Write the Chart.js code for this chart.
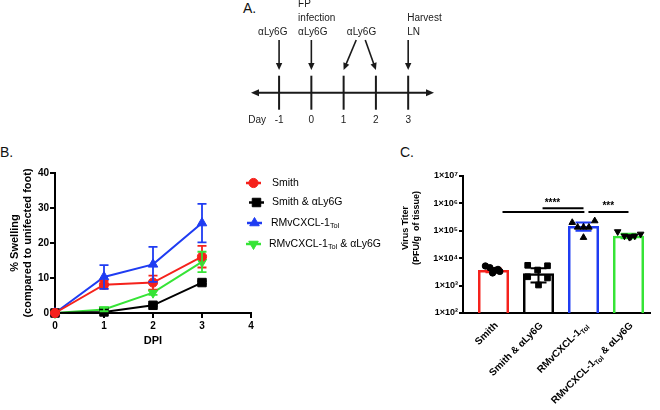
<!DOCTYPE html>
<html><head><meta charset="utf-8">
<script src="https://cdn.jsdelivr.net/npm/chart.js@4/dist/chart.umd.min.js"></script>
<style>
html,body{margin:0;padding:0;background:#fff;width:660px;height:410px;overflow:hidden;position:relative}
canvas{position:absolute}
#ca{left:240px;top:0}
#cb{left:0;top:140px}
#cc{left:400px;top:140px}
.pl{position:absolute;font:14px 'Liberation Sans',Arial,sans-serif;color:#111;line-height:14px}
</style></head><body>
<div class="pl" style="left:243px;top:1px">A.</div>
<div class="pl" style="left:0px;top:145px">B.</div>
<div class="pl" style="left:400px;top:145px">C.</div>
<canvas id="ca" width="210" height="130"></canvas>
<canvas id="cb" width="400" height="215"></canvas>
<canvas id="cc" width="260" height="270"></canvas>
<script>
// ---------- DATA ----------
// Panel A: timeline
const dayTicks = [-1, 0, 1, 2, 3];
const eventText = [['αLy6G'], ['FP', 'infection', 'αLy6G'], ['αLy6G'], ['Harvest', 'LN']];
const eventDays = [[-1], [0], [1, 2], [3]];

// Panel B: % swelling vs DPI
const dpi = [0, 1, 2, 3];
const dpiTicks = [0, 1, 2, 3, 4];
const smith = [0, 8.1, 8.7, 16.1];
const smithErr = [0, 1.1, 2.0, 3.1];
const smithLy6G = [0, 0.3, 2.2, 8.7];
const smithLy6GErr = [0, 0.2, 0.3, 0.4];
const rmv = [0, 10.3, 13.9, 25.7];
const rmvErr = [0, 3.4, 5.0, 5.5];
const rmvLy6G = [0, 1.0, 5.8, 14.6];
const rmvLy6GErr = [0, 0.5, 0.6, 2.9];
const seriesNames = ['Smith', 'Smith & αLy6G', 'RMvCXCL-1_{Tol}', 'RMvCXCL-1_{Tol} & αLy6G'];

// Panel C: virus titer
const titerGroups = ['Smith', 'Smith & αLy6G', 'RMvCXCL-1_{Tol}', 'RMvCXCL-1_{Tol} & αLy6G'];
const titerMean = [3700, 2800, 150000, 66000];
const titerSD = [600, 1500, 50000, 12000];
const titerSmith = [5200, 4500, 3600, 3300, 2900, 3900];
const titerSmithLy6G = [5500, 5300, 3700, 2100, 1900, 1050];
const titerRmv = [200000, 230000, 135000, 135000, 135000, 57000];
const titerRmvLy6G = [93000, 65000, 58000, 61000, 65000, 76000];
const titerExponents = [2, 3, 4, 5, 6, 7];
const sigLines = [[0.2, 2.02, 485000], [1.09, 2.0, 660000], [2.11, 3.0, 485000]];
const sigStars = [['****', 1.31, 830000], ['***', 2.55, 650000]];

// ---------- STYLE / LAYOUT ----------
const FAM = "'Liberation Sans', Arial, Helvetica, sans-serif";
const RED = '#f5221c', BLK = '#000000', BLU = '#1f3cf2', GRN = '#36e436';
const H = Chart.helpers;
Chart.defaults.font.family = FAM;
Chart.defaults.color = '#000';

function segs(s){
  const out=[]; const re=/_\{([^}]*)\}/g; let last=0, m;
  while((m=re.exec(s))){ if(m.index>last) out.push([s.slice(last,m.index),false]); out.push([m[1],true]); last=re.lastIndex; }
  if(last<s.length) out.push([s.slice(last),false]);
  return out;
}
function richWidth(ctx, s, size, weight){
  let w=0; for(const [t,sub] of segs(s)){ ctx.font=`${weight} ${sub?size*0.7:size}px ${FAM}`; w+=ctx.measureText(t).width; } return w;
}
function drawRich(ctx, s, x, y, size, weight, align){
  const w = richWidth(ctx, s, size, weight);
  let cx = align==='right' ? x-w : (align==='center' ? x-w/2 : x);
  ctx.textAlign='left'; ctx.textBaseline='middle';
  for(const [t,sub] of segs(s)){
    ctx.font=`${weight} ${sub?size*0.7:size}px ${FAM}`;
    ctx.fillText(t, cx, sub ? y+size*0.33 : y);
    cx += ctx.measureText(t).width;
  }
}
function sup(n){ return String(n).split('').map(d=>'⁰¹²³⁴⁵⁶⁷⁸⁹'[+d]).join(''); }

// ---------- PANEL A ----------
const A_LINE = [-1.87, 3.8];
const A_ARROW = [5.27, 2.27];
const A_TEXT_X = [-1.65, -0.41, 1.1, 2.97];
const A_ROWS = [6.02, 7.47, 8.87];
const A_DAYROW = -2.73;
const A_DIAG_START = [1.39, 1.67];
function arrowHead(ctx, x1, y1, x2, y2, len, half){
  const a = Math.atan2(y2-y1, x2-x1);
  ctx.beginPath();
  ctx.moveTo(x2, y2);
  ctx.lineTo(x2 - len*Math.cos(a) + half*Math.sin(a), y2 - len*Math.sin(a) - half*Math.cos(a));
  ctx.lineTo(x2 - len*Math.cos(a) - half*Math.sin(a), y2 - len*Math.sin(a) + half*Math.cos(a));
  ctx.closePath(); ctx.fill();
}
function arrow(ctx, x1, y1, x2, y2){
  const a = Math.atan2(y2-y1, x2-x1);
  ctx.beginPath(); ctx.moveTo(x1,y1); ctx.lineTo(x2-5*Math.cos(a), y2-5*Math.sin(a)); ctx.stroke();
  arrowHead(ctx, x1, y1, x2, y2, 7, 3.2);
}
const timelinePlugin = {
  id:'timeline',
  beforeDatasetsDraw(chart){
    const {ctx, scales:{x, y}} = chart;
    ctx.save();
    ctx.strokeStyle='#1a1a1a'; ctx.fillStyle='#1a1a1a'; ctx.lineWidth=2;
    const y0 = y.getPixelForValue(0);
    const xa = x.getPixelForValue(A_LINE[0]), xb = x.getPixelForValue(A_LINE[1]);
    ctx.beginPath(); ctx.moveTo(xa+5, y0); ctx.lineTo(xb-5, y0); ctx.stroke();
    arrowHead(ctx, xb-10, y0, xb, y0, 8, 3.5);
    arrowHead(ctx, xa+10, y0, xa, y0, 8, 3.5);
    const yt = y.getPixelForValue(A_ARROW[0]), yb = y.getPixelForValue(A_ARROW[1]);
    ctx.lineWidth = 1.6;
    eventDays.forEach((days, i) => {
      days.forEach((d, k) => {
        const px = x.getPixelForValue(d);
        if (days.length === 1) arrow(ctx, px, yt, px, yb);
        else arrow(ctx, x.getPixelForValue(A_DIAG_START[k]), yt, px, yb);
      });
      const lines = eventText[i];
      ctx.font = `10px ${FAM}`; ctx.textAlign='left'; ctx.textBaseline='middle'; ctx.fillStyle='#1a1a1a';
      lines.forEach((t, j) => {
        const row = A_ROWS[lines.length-1-j];
        ctx.fillText(t, x.getPixelForValue(A_TEXT_X[i]), y.getPixelForValue(row));
      });
    });
    ctx.font = `10px ${FAM}`; ctx.textAlign='center';
    const yd = y.getPixelForValue(A_DAYROW);
    ctx.fillText('Day', x.getPixelForValue(-1.68), yd);
    dayTicks.forEach(d => ctx.fillText(String(d), x.getPixelForValue(d), yd));
    ctx.restore();
  }
};
new Chart(document.getElementById('ca'), {
  type:'scatter',
  data:{datasets:[{data: dayTicks.map(d=>({x:d, y:0})), pointStyle:'line', pointRotation:90, pointRadius:17,
    pointBorderWidth:2, pointBorderColor:'#1a1a1a', pointBackgroundColor:'#1a1a1a', showLine:false, clip:false}]},
  options:{responsive:false, animation:false, devicePixelRatio:1,
    layout:{autoPadding:false, padding:{left:11, right:16, top:0, bottom:0}},
    plugins:{legend:{display:false}, tooltip:{enabled:false}},
    scales:{x:{type:'linear', display:false, min:A_LINE[0], max:A_LINE[1]},
            y:{type:'linear', display:false, min:-3.73, max:9.27}}},
  plugins:[timelinePlugin]
});

// ---------- PANEL B ----------
const seriesB = [
  {label:seriesNames[0], vals:smith, err:smithErr, color:RED, style:'circle', rot:0, r:4.6},
  {label:seriesNames[1], vals:smithLy6G, err:smithLy6GErr, color:BLK, style:'rect', rot:0, r:6},
  {label:seriesNames[2], vals:rmv, err:rmvErr, color:BLU, style:'triangle', rot:0, r:5.5},
  {label:seriesNames[3], vals:rmvLy6G, err:rmvLy6GErr, color:GRN, style:'triangle', rot:180, r:5.5}
];
const errB = {
  id:'errB',
  afterDatasetsDraw(chart){
    const {ctx, scales:{x, y}} = chart;
    ctx.save(); ctx.lineWidth=1.8;
    seriesB.forEach(s => {
      ctx.strokeStyle = s.color;
      dpi.forEach((d, i) => {
        const e = s.err[i]; if (!e) return;
        const px = x.getPixelForValue(d), t = y.getPixelForValue(s.vals[i]+e), b = y.getPixelForValue(s.vals[i]-e);
        ctx.beginPath();
        ctx.moveTo(px, t); ctx.lineTo(px, b);
        ctx.moveTo(px-4.5, t); ctx.lineTo(px+4.5, t);
        ctx.moveTo(px-4.5, b); ctx.lineTo(px+4.5, b);
        ctx.stroke();
      });
    });
    ctx.restore();
  }
};
const LEG_Y = [43, 62.5, 83, 104];
const LEG_LX = [246, 249, 247, 246];
const LEG_TX = [272, 272, 271, 269];
const legendB = {
  id:'legendB',
  afterDraw(chart){
    const ctx = chart.ctx; ctx.save();
    seriesB.forEach((s, i) => {
      ctx.strokeStyle = s.color; ctx.fillStyle = s.color; ctx.lineWidth = 2.5;
      ctx.beginPath(); ctx.moveTo(LEG_LX[i], LEG_Y[i]); ctx.lineTo(LEG_LX[i]+15, LEG_Y[i]); ctx.stroke();
      ctx.lineWidth = 1;
      H.drawPoint(ctx, {pointStyle:s.style, radius:s.r, rotation:s.rot, borderWidth:1}, LEG_LX[i]+7.5, LEG_Y[i]);
      ctx.fillStyle = '#000';
      drawRich(ctx, s.label, LEG_TX[i], LEG_Y[i], 10.5, 'normal', 'left');
    });
    ctx.restore();
  }
};
new Chart(document.getElementById('cb'), {
  type:'line',
  data:{datasets: seriesB.map(s => ({
    label:s.label, data: dpi.map((d, i) => ({x:d, y:s.vals[i]})),
    borderColor:s.color, backgroundColor:s.color, pointBackgroundColor:s.color, pointBorderColor:s.color,
    borderWidth:2, pointStyle:s.style, pointRotation:s.rot, pointRadius:s.r, pointBorderWidth:1,
    clip:false, tension:0, fill:false}))},
  options:{responsive:false, animation:false, devicePixelRatio:1,
    layout:{autoPadding:false, padding:{left:0, right:149, top:33, bottom:0}},
    plugins:{legend:{display:false}, tooltip:{enabled:false}},
    scales:{
      x:{type:'linear', min:0, max:4,
         afterFit(s){ s.height = 42; },
         afterBuildTicks(s){ s.ticks = dpiTicks.map(v => ({value:v})); },
         ticks:{font:{size:10, weight:'bold'}, padding:2, color:'#000'},
         grid:{drawOnChartArea:false, drawTicks:true, tickLength:5, color:'#000', lineWidth:2},
         border:{display:true, color:'#000', width:2},
         title:{display:true, text:'DPI', font:{size:11, weight:'bold'}, color:'#000', padding:{top:0, bottom:7}}},
      y:{type:'linear', min:0, max:40,
         afterFit(s){ s.width = 55; },
         ticks:{stepSize:10, font:{size:10, weight:'bold'}, padding:1, color:'#000'},
         grid:{drawOnChartArea:false, drawTicks:true, tickLength:5, color:'#000', lineWidth:2},
         border:{display:true, color:'#000', width:2},
         title:{display:true, text:['% Swelling', '(compared to unifected foot)'], font:{size:11, weight:'bold'}, color:'#000', padding:{top:8, bottom:0}}}
    }},
  plugins:[errB, legendB]
});

// ---------- PANEL C ----------
const colorsC = [RED, BLK, BLU, GRN];
const pointsC = [titerSmith, titerSmithLy6G, titerRmv, titerRmvLy6G];
const stylesC = [['circle',0,3.2], ['rect',0,4], ['triangle',0,3.8], ['triangle',180,3.8]];
const jitterC = [[-0.18,-0.08,0.04,0.14,-0.02,0.1], [-0.24,0.2,-0.02,-0.24,0.2,0.0],
                 [-0.25,0.25,-0.13,0,0.12,0], [-0.24,-0.09,0.02,0.05,0.14,0.27]];
const errC = {
  id:'errC',
  afterDatasetDraw(chart, args){
    if (args.index !== 0) return;
    const {ctx, scales:{x, y}} = chart;
    ctx.save(); ctx.lineWidth = 2;
    titerMean.forEach((m, i) => {
      const px = x.getPixelForValue(i), t = y.getPixelForValue(m + titerSD[i]), b = y.getPixelForValue(m - titerSD[i]);
      ctx.strokeStyle = colorsC[i];
      ctx.beginPath();
      ctx.moveTo(px, t); ctx.lineTo(px, b);
      ctx.moveTo(px-8, t); ctx.lineTo(px+8, t);
      ctx.moveTo(px-8, b); ctx.lineTo(px+8, b);
      ctx.stroke();
    });
    ctx.restore();
  }
};
const decorC = {
  id:'decorC',
  afterDraw(chart){
    const {ctx, scales:{x, y}, chartArea} = chart;
    ctx.save();
    // significance
    ctx.strokeStyle = '#000'; ctx.lineWidth = 2;
    sigLines.forEach(([a, b, v]) => {
      const py = y.getPixelForValue(v);
      ctx.beginPath(); ctx.moveTo(x.getPixelForValue(a), py); ctx.lineTo(x.getPixelForValue(b), py); ctx.stroke();
    });
    ctx.fillStyle = '#000'; ctx.font = `bold 10px ${FAM}`; ctx.textAlign = 'center'; ctx.textBaseline = 'alphabetic';
    sigStars.forEach(([t, a, v]) => ctx.fillText(t, x.getPixelForValue(a), y.getPixelForValue(v)));
    // x labels
    titerGroups.forEach((g, i) => {
      ctx.save();
      ctx.translate(x.getPixelForValue(i) + 3, chartArea.bottom + 11);
      ctx.rotate(-Math.PI/4);
      ctx.fillStyle = '#000';
      drawRich(ctx, g, 0, 0, 10, 'bold', 'right');
      ctx.restore();
    });
    // y title
    ctx.save();
    ctx.translate(6, 88); ctx.rotate(-Math.PI/2);
    ctx.fillStyle = '#000'; ctx.font = `bold 9px ${FAM}`; ctx.textAlign = 'center'; ctx.textBaseline = 'middle';
    ctx.fillText('Virus Titer', 0, 0);
    ctx.fillText('(PFU/g  of tissue)', 0, 11);
    ctx.restore();
    ctx.restore();
  }
};
const datasetsC = [{
  type:'bar', label:'mean', order:2,
  data: titerMean.map((v, i) => ({x:i, y:v})),
  backgroundColor:'rgba(255,255,255,0)', borderColor:colorsC, borderWidth:2.5,
  barPercentage:0.69, categoryPercentage:1
}];
pointsC.forEach((vals, i) => {
  datasetsC.push({
    type:'scatter', label:titerGroups[i], order:1,
    data: vals.map((v, j) => ({x:i + jitterC[i][j], y:v})),
    pointStyle:stylesC[i][0], pointRotation:stylesC[i][1], pointRadius:stylesC[i][2],
    backgroundColor:'#000', borderColor:'#000', pointBorderWidth:1, showLine:false, clip:false
  });
});
new Chart(document.getElementById('cc'), {
  type:'bar',
  data:{datasets: datasetsC},
  options:{responsive:false, animation:false, devicePixelRatio:1,
    layout:{autoPadding:false, padding:{left:0, right:10, top:36, bottom:0}},
    plugins:{legend:{display:false}, tooltip:{enabled:false}},
    scales:{
      x:{type:'linear', min:-0.678, max:3.478, offset:false,
         afterFit(s){ s.height = 97; },
         afterBuildTicks(s){ s.ticks = titerMean.map((v, i) => ({value:i})); },
         ticks:{display:false},
         grid:{display:false},
         border:{display:true, color:'#000', width:2}},
      y:{type:'logarithmic', min:100, max:1e7,
         afterFit(s){ s.width = 63; },
         afterBuildTicks(s){ s.ticks = titerExponents.map(e => ({value:Math.pow(10, e), major:true})); },
         ticks:{font:{size:9, weight:'bold'}, padding:1, color:'#000', autoSkip:false,
                callback:(v) => '1×10' + sup(Math.round(Math.log10(v)))},
         grid:{drawOnChartArea:false, drawTicks:true, tickLength:4, color:'#000', lineWidth:2},
         border:{display:true, color:'#000', width:2}}
    }},
  plugins:[errC, decorC]
});
</script>
</body></html>
